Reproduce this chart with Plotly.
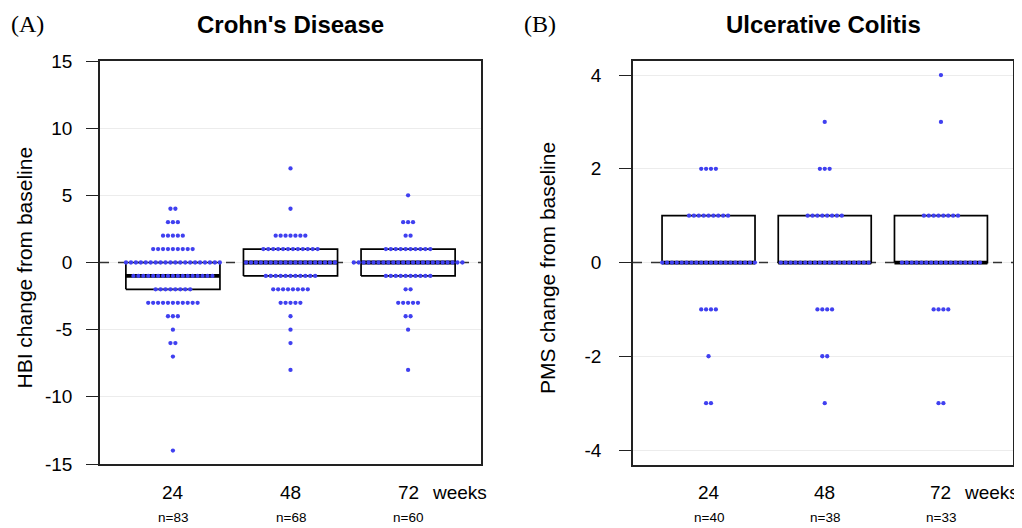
import plotly.graph_objects as go

# ---------------- data ----------------
week_labels = ["24", "48", "72"]
week_pos = [1, 2, 3]
n_cd = ["n=83", "n=68", "n=60"]
n_uc = ["n=40", "n=38", "n=33"]

cd_values = [7, 5, 4, 3, 2, 1, 0, -1, -2, -3, -4, -5, -6, -7, -8, -14]
cd24_counts = [0, 0, 2, 3, 5, 9, 20, 17, 8, 11, 3, 1, 2, 1, 0, 1]
cd48_counts = [1, 0, 1, 0, 7, 12, 19, 11, 8, 5, 1, 1, 1, 0, 1, 0]
cd72_counts = [0, 1, 0, 3, 2, 10, 23, 10, 2, 5, 2, 1, 0, 0, 1, 0]

uc_values = [4, 3, 2, 1, 0, -1, -2, -3]
uc24_counts = [0, 0, 4, 9, 20, 4, 1, 2]
uc48_counts = [0, 1, 3, 8, 19, 4, 2, 1]
uc72_counts = [1, 1, 0, 8, 17, 4, 0, 2]

cd_q1 = [-2, -1, -1]
cd_med = [-1, 0, 0]
cd_q3 = [0, 1, 1]
uc_q1 = [0, 0, 0]
uc_med = [0, 0, 0]
uc_q3 = [1, 1, 1]

cd_ticks = [-15, -10, -5, 0, 5, 10, 15]
cd_tick_text = ["-15", "-10", "-5", "0", "5", "10", "15"]
uc_ticks = [-4, -2, 0, 2, 4]
uc_tick_text = ["-4", "-2", "0", "2", "4"]

cd_xrange = [0.38, 3.62]
uc_xrange = [0.35, 3.62]

# ---------------- styling ----------------
W, H = 1014, 520      # figure size; page body adds an 8px offset
OFF = 8
DOT = "#4040f0"
SPACING = 0.042
BOXW = 0.4
FONT = "Liberation Sans, Arial, sans-serif"
SERIF = "Liberation Serif, Times New Roman, serif"


def xp(px):
    return (px - OFF) / W


def yp(py):
    return 1 - (py - OFF) / H


fig = go.Figure()


def swarm(values, counts, center):
    xs, ys = [], []
    for v, c in zip(values, counts):
        for i in range(c):
            xs.append(center + (i - (c - 1) / 2) * SPACING)
            ys.append(v)
    return xs, ys


def add_panel(xa, ya, xrange, values, groups, q1s, meds, q3s):
    # dashed reference line at zero
    fig.add_trace(go.Scatter(
        x=xrange, y=[0, 0], mode="lines",
        line=dict(color="#333", width=1.5, dash="dash"), xaxis=xa, yaxis=ya,
        showlegend=False, hoverinfo="skip"))
    for center, q1, md, q3 in zip(week_pos, q1s, meds, q3s):
        fig.add_trace(go.Scatter(
            x=[center - BOXW, center + BOXW, center + BOXW, center - BOXW, center - BOXW],
            y=[q1, q1, q3, q3, q1], mode="lines",
            line=dict(color="black", width=1.7), xaxis=xa, yaxis=ya,
            showlegend=False, hoverinfo="skip"))
        fig.add_trace(go.Scatter(
            x=[center - BOXW, center + BOXW], y=[md, md], mode="lines",
            line=dict(color="black", width=3.8), xaxis=xa, yaxis=ya,
            showlegend=False, hoverinfo="skip"))
    for center, counts in zip(week_pos, groups):
        xs, ys = swarm(values, counts, center)
        fig.add_trace(go.Scatter(
            x=xs, y=ys, mode="markers",
            marker=dict(color=DOT, size=4.3, line=dict(width=0)),
            xaxis=xa, yaxis=ya, showlegend=False))


add_panel("x", "y", cd_xrange, cd_values, [cd24_counts, cd48_counts, cd72_counts],
          cd_q1, cd_med, cd_q3)
add_panel("x2", "y2", uc_xrange, uc_values, [uc24_counts, uc48_counts, uc72_counts],
          uc_q1, uc_med, uc_q3)

axis_common = dict(showline=True, mirror=True, linecolor="#222", linewidth=1.5,
                   zeroline=False, automargin=False)
fig.update_layout(
    width=W, height=H, margin=dict(l=0, r=0, t=0, b=0, autoexpand=False),
    paper_bgcolor="white", plot_bgcolor="white",
    font=dict(family=FONT, color="black"),
    xaxis=dict(domain=[xp(100), xp(481)], range=cd_xrange, showticklabels=False,
               showgrid=False, ticks="", anchor="y", **axis_common),
    yaxis=dict(domain=[yp(464), yp(61)], range=[-15, 15], tickvals=cd_ticks,
               ticktext=cd_tick_text,
               ticks="outside", ticklen=12, tickcolor="#222", tickwidth=1.3,
               ticklabelstandoff=10,
               tickfont=dict(size=19), showgrid=True, gridcolor="#ececec",
               gridwidth=1, anchor="x", **axis_common),
    xaxis2=dict(domain=[xp(633), xp(1013)], range=uc_xrange, showticklabels=False,
                showgrid=False, ticks="", anchor="y2", **axis_common),
    yaxis2=dict(domain=[yp(465), yp(61)], range=[-4.32, 4.3], tickvals=uc_ticks,
                ticktext=uc_tick_text,
                ticks="outside", ticklen=12, tickcolor="#222", tickwidth=1.3,
                ticklabelstandoff=14,
                tickfont=dict(size=19), showgrid=True, gridcolor="#ececec",
                gridwidth=1, anchor="x2", **axis_common),
)

ann = []
ann.append(dict(text="<b>Crohn's Disease</b>", x=xp(290.5), y=yp(25), xref="paper", yref="paper",
                showarrow=False, font=dict(size=24), xanchor="center", yanchor="middle"))
ann.append(dict(text="<b>Ulcerative Colitis</b>", x=xp(823), y=yp(25), xref="paper", yref="paper",
                showarrow=False, font=dict(size=24), xanchor="center", yanchor="middle"))
ann.append(dict(text="(A)", x=xp(9), y=yp(24), xref="paper", yref="paper", showarrow=False,
                font=dict(size=24, family=SERIF), xanchor="left", yanchor="middle"))
ann.append(dict(text="(B)", x=xp(522), y=yp(24), xref="paper", yref="paper", showarrow=False,
                font=dict(size=24, family=SERIF), xanchor="left", yanchor="middle"))
ann.append(dict(text="HBI change from baseline", x=xp(23.5), y=yp(268), xref="paper", yref="paper",
                showarrow=False, textangle=-90, font=dict(size=21), xanchor="center", yanchor="middle"))
ann.append(dict(text="PMS change from baseline", x=xp(547), y=yp(268), xref="paper", yref="paper",
                showarrow=False, textangle=-90, font=dict(size=21), xanchor="center", yanchor="middle"))
for xr, ns in [("x", n_cd), ("x2", n_uc)]:
    for pos, lab, n in zip(week_pos, week_labels, ns):
        ann.append(dict(text=lab, x=pos, y=yp(492), xref=xr, yref="paper", showarrow=False,
                        font=dict(size=19), xanchor="center", yanchor="middle"))
        ann.append(dict(text=n, x=pos, y=yp(517), xref=xr, yref="paper", showarrow=False,
                        font=dict(size=13.5), xanchor="center", yanchor="middle"))
    ann.append(dict(text="weeks", x=3.185, y=yp(492), xref=xr, yref="paper", showarrow=False,
                    font=dict(size=19), xanchor="left", yanchor="middle"))
fig.update_layout(annotations=ann)

fig.write_html("out.html")
